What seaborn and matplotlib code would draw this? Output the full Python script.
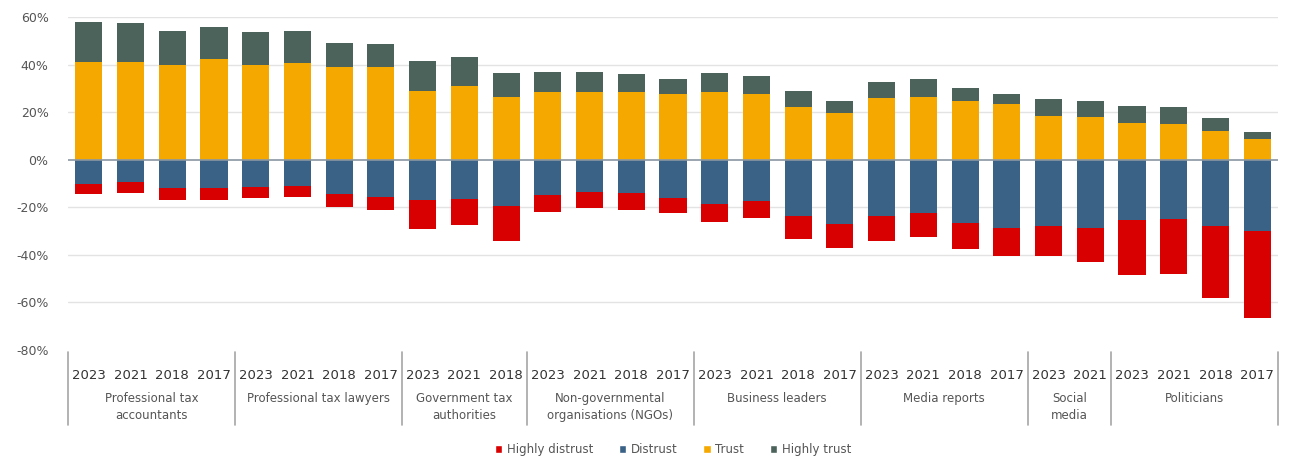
import numpy as np
import pandas as pd
import matplotlib
matplotlib.use("Agg")
import matplotlib.pyplot as plt
from matplotlib.patches import Patch
import matplotlib.transforms as mtransforms
import seaborn as sns

# ---- data (percent) ----
groups = ["Professional tax\naccountants", "Professional tax lawyers",
          "Government tax\nauthorities", "Non-governmental\norganisations (NGOs)",
          "Business leaders", "Media reports", "Social\nmedia", "Politicians"]
group_years = [["2023", "2021", "2018", "2017"],
               ["2023", "2021", "2018", "2017"],
               ["2023", "2021", "2018"],
               ["2023", "2021", "2018", "2017"],
               ["2023", "2021", "2018", "2017"],
               ["2023", "2021", "2018", "2017"],
               ["2023", "2021"],
               ["2023", "2021", "2018", "2017"]]

trust = [41, 41, 40, 42.5, 40, 40.5, 39, 39, 29, 31, 26.5, 28.5, 28.5, 28.5, 27.5,
         28.5, 27.5, 22, 19.5, 26, 26.5, 24.5, 23.5, 18.5, 18, 15.5, 15, 12, 8.5]
highly_trust = [17, 16.5, 14, 13.5, 13.5, 13.5, 10, 9.5, 12.5, 12, 10, 8.5, 8.5, 7.5, 6.5,
                8, 7.5, 7, 5, 6.5, 7.5, 5.5, 4, 7, 6.5, 7, 7, 5.5, 3]
distrust = [10, 9.5, 12, 12, 11.5, 11, 14.5, 15.5, 17, 16.5, 19.5, 15, 13.5, 14, 16,
            18.5, 17.5, 23.5, 27, 23.5, 22.5, 26.5, 28.5, 28, 28.5, 25.5, 25, 28, 30]
highly_distrust = [4.5, 4.5, 5, 5, 4.5, 4.5, 5.5, 5.5, 12, 11, 14.5, 7, 7, 7, 6.5,
                   7.5, 7, 10, 10, 10.5, 10, 11, 12, 12.5, 14.5, 23, 23, 30, 36.5]

y_ticks = [60, 40, 20, 0, -20, -40, -60, -80]
legend_labels = ["Highly distrust", "Distrust", "Trust", "Highly trust"]

# ---- styles ----
c_hd = "#D80000"
c_d = "#3A6186"
c_t = "#F5A800"
c_ht = "#4B635A"

sns.set_theme(style="white")
plt.rcParams["font.family"] = ["DejaVu Sans"]

ids, years, grp = [], [], []
for g, ys in zip(groups, group_years):
    for y in ys:
        ids.append(f"{g}|{y}")
        years.append(y)
        grp.append(g)

df = pd.DataFrame({
    "id": ids, "year": years, "group": grp,
    "trust": trust, "highly_trust": highly_trust,
    "distrust": distrust, "highly_distrust": highly_distrust,
})
df["pos_total"] = df["trust"] + df["highly_trust"]
df["neg_total"] = -(df["distrust"] + df["highly_distrust"])
df["neg_d"] = -df["distrust"]

fig = plt.figure(figsize=(12.89, 4.59), dpi=100)
ax = fig.add_axes([68 / 1289, 1 - 350 / 459, (1278 - 68) / 1289, (350 - 17) / 459])

# gridlines
for v in y_ticks:
    if v == min(y_ticks) or v == 0:
        continue
    ax.axhline(v, color="#E3E3E3", lw=1.0, zorder=0)

bw = 0.65
for col, c in [("pos_total", c_ht), ("trust", c_t), ("neg_total", c_hd), ("neg_d", c_d)]:
    sns.barplot(data=df, x="id", y=col, order=ids, color=c, saturation=1,
                width=bw, errorbar=None, ax=ax, zorder=2, linewidth=0, edgecolor="none")

ax.axhline(0, color="#8A96A3", lw=1.2, zorder=3)

ax.set_ylim(-80, 60)
ax.set_xlim(-0.5, len(ids) - 0.5)
ax.set_yticks(y_ticks)
ax.set_yticklabels([f"{v}%" for v in y_ticks], fontsize=9, color="#555555")
ax.tick_params(axis="y", length=0, pad=14)
ax.set_xticks(range(len(ids)))
ax.set_xticklabels(years, fontsize=9.5, color="#333333")
ax.tick_params(axis="x", length=0, pad=14)
ax.set_xlabel("")
ax.set_ylabel("")
for s in ax.spines.values():
    s.set_visible(False)

# category axis: separators and group labels
trans = mtransforms.blended_transform_factory(ax.transData, ax.transAxes)
start = 0
bounds = [-0.5]
for g, ys in zip(groups, group_years):
    n = len(ys)
    center = start + (n - 1) / 2
    ax.text(center, -0.125, g, transform=trans, ha="center", va="top",
            fontsize=8.5, color="#555555", linespacing=1.45)
    start += n
    bounds.append(start - 0.5)
for b in bounds:
    ax.plot([b, b], [-0.005, -0.225], transform=trans, color="#A6A6A6", lw=1.2,
            clip_on=False)

handles = [Patch(facecolor=c_hd), Patch(facecolor=c_d), Patch(facecolor=c_t), Patch(facecolor=c_ht)]
fig.legend(handles, legend_labels, loc="center", bbox_to_anchor=(673 / 1289, 0.02),
           ncol=4, frameon=False, fontsize=8.5, handlelength=0.6, handleheight=0.6,
           handletextpad=0.4, columnspacing=2.2, labelcolor="#555555")

fig.savefig("out.png", dpi=100)
